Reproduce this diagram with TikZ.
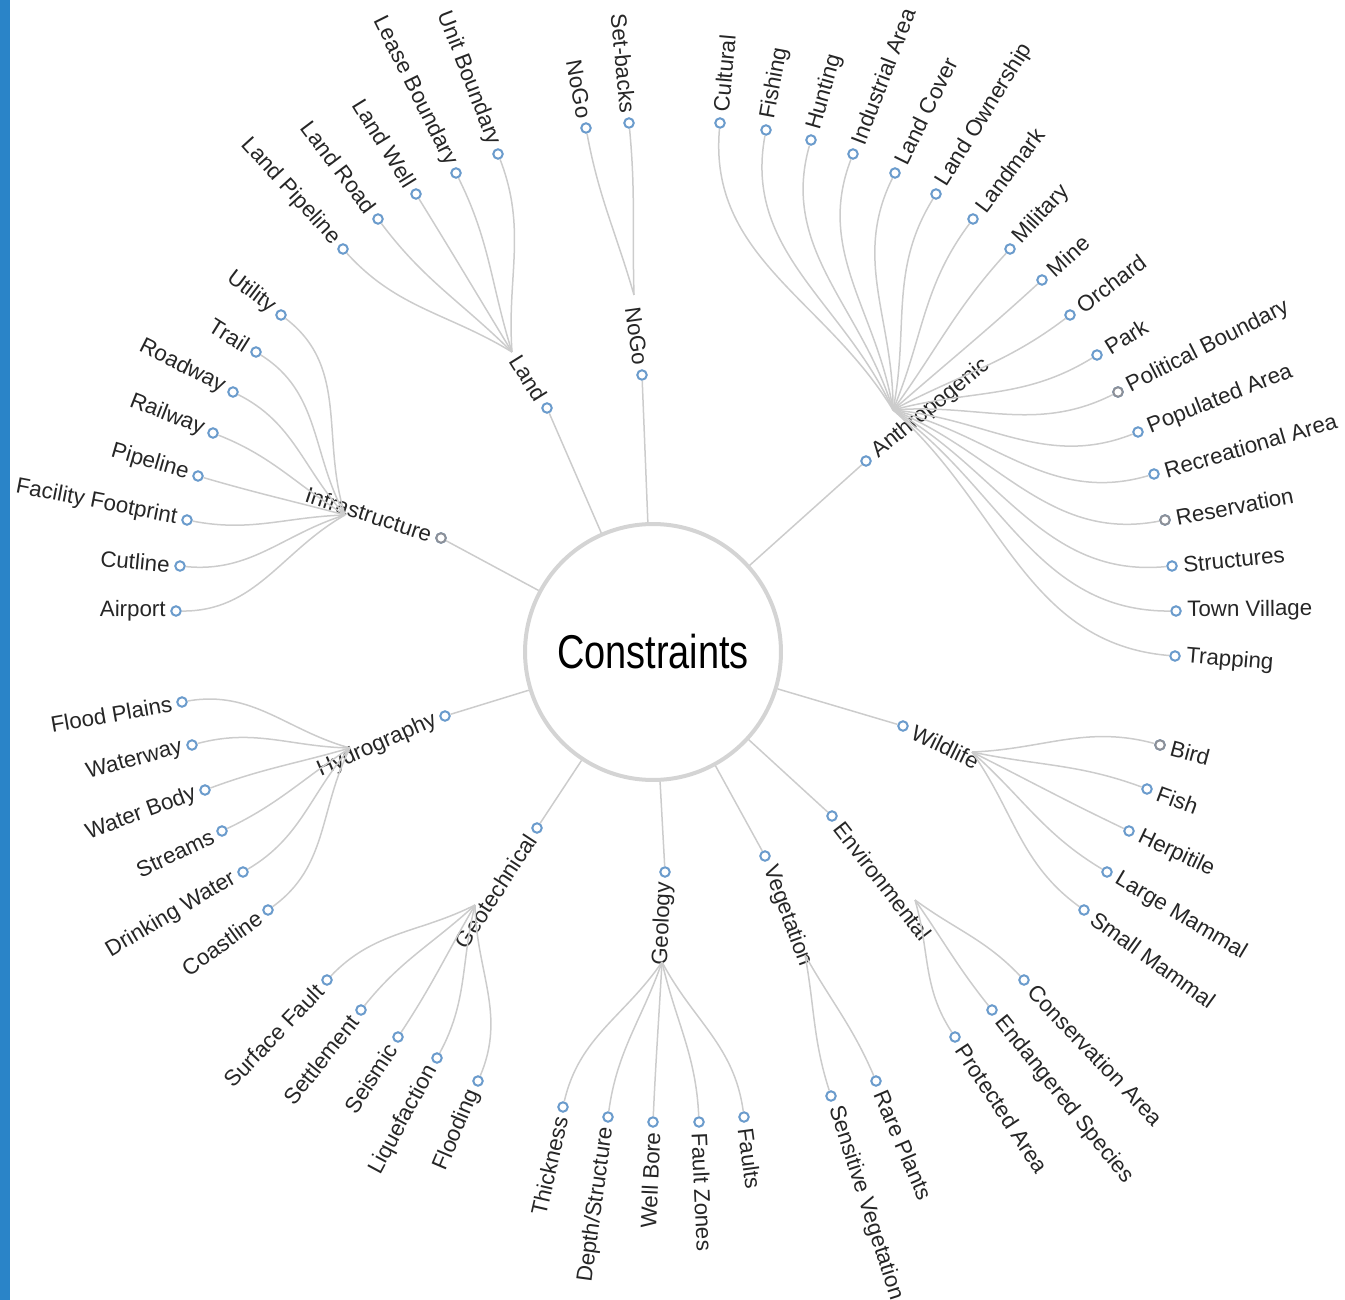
\documentclass[tikz,border=0pt]{standalone}
\usepackage{fontspec}
\setmainfont{Liberation Sans}
\usetikzlibrary{calc}
\definecolor{linkgray}{HTML}{CCCCCC}
\definecolor{dotblue}{HTML}{6A9BCC}
\definecolor{dotgray}{HTML}{8C9098}
\definecolor{barblue}{HTML}{2A84C8}
\definecolor{ringgray}{HTML}{D4D4D4}
\newcommand{\layoutx}{676}
\newcommand{\layouty}{615}
% dot with a label turned along the radius, outward
\newcommand{\leafnode}[4]{%
  \pgfmathsetmacro{\lbang}{atan2(\layouty-#3,#2-\layoutx)}%
  \pgfmathtruncatemacro{\lbflip}{cos(\lbang)<0}%
  \node[dot] (#1) at (#2,#3) {};
  \ifnum\lbflip=1
    \node[lbl, anchor=east, rotate=\lbang+180] at ($(#1)+(\lbang:0.2cm)$) {#4};
  \else
    \node[lbl, anchor=west, rotate=\lbang] at ($(#1)+(\lbang:0.22cm)$) {#4};
  \fi
}
\newcommand{\branch}[2]{%
  \draw[link] let \p1=($(#2)-(#1)$), \p2=($(#2)-(L)$),
    \n1={atan2(\y1,\x1)}, \n2={atan2(\y2,\x2)+180} in
    (#1) to[out=\n1, in=\n2] (#2);
}

\begin{document}
\begin{tikzpicture}[x=0.02cm, y=-0.02cm]
  \tikzset{
    dot/.style={circle, draw=dotblue, fill=white, line width=0.04cm,
      minimum size=0.19cm, inner sep=0pt},
    lbl/.style={font=\fontsize{12.7}{15}\selectfont, text=black!85, inner sep=0pt},
    link/.style={draw=linkgray, line width=0.03cm},
    rootring/.style={circle, draw=ringgray, line width=0.08cm, fill=white,
      minimum size=5.12cm, inner sep=0pt,
      font=\fontsize{27}{30}\selectfont}
  }
  \useasboundingbox (0,0) rectangle (1345,1300);
  \fill[barblue] (0,0) rectangle (10,1300);

  \coordinate (L) at (\layoutx,\layouty);
  \node[rootring] (root) at (653,652) {\scalebox{0.8}[1]{Constraints}};

  % first ring
  \foreach \nm/\ax/\ay/\txt in {land/547/408/Land, nogo/642/375/NoGo,
      anthro/866/461/Anthropogenic, infra/441/538/Infrastructure,
      hydro/445/716/Hydrography, geotech/537/828/Geotechnical,
      geology/665/872/Geology, veg/765/856/Vegetation,
      env/832/816/Environmental, wildlife/903/726/Wildlife}
    {\leafnode{\nm}{\ax}{\ay}{\txt}
     \draw[link] (root) -- (\nm);}

  \coordinate (landhub) at (512,352);
  \coordinate (nogohub) at (634,295);
  \coordinate (anthrohub) at (893,410);
  \coordinate (infrahub) at (345,515);
  \coordinate (hydrohub) at (350,748);
  \coordinate (geotechhub) at (475,905);
  \coordinate (geologyhub) at (662,962);
  \coordinate (veghub) at (805,955);
  \coordinate (envhub) at (915,900);
  \coordinate (wildlifehub) at (972,752);

  % leaves
  \foreach \nm/\ax/\ay/\txt in {landpipe/343/249/Land Pipeline,
      landroad/378/219/Land Road, landwell/416/194/Land Well,
      lease/456/173/Lease Boundary, unitb/498/154/Unit Boundary}
    {\leafnode{\nm}{\ax}{\ay}{\txt} \branch{landhub}{\nm}}

  \foreach \nm/\ax/\ay/\txt in {nogoleaf/586/128/NoGo, setbacks/629/123/Set-backs}
    {\leafnode{\nm}{\ax}{\ay}{\txt} \branch{nogohub}{\nm}}

  \foreach \nm/\ax/\ay/\txt in {cultural/720/123/Cultural, fishing/766/130/Fishing,
      hunting/811/140/Hunting, industrial/853/154/Industrial Area,
      landcover/895/173/Land Cover, landown/936/194/Land Ownership,
      landmark/973/219/Landmark, military/1010/249/Military,
      mine/1042/280/Mine, orchard/1070/315/Orchard, park/1097/355/Park,
      political/1118/392/Political Boundary, populated/1138/432/Populated Area,
      recreational/1154/474/Recreational Area, reservation/1165/520/Reservation,
      structures/1172/566/Structures, town/1176/611/Town Village,
      trapping/1175/656/Trapping}
    {\leafnode{\nm}{\ax}{\ay}{\txt} \branch{anthrohub}{\nm}}

  \foreach \nm/\ax/\ay/\txt in {utility/281/315/Utility, trail/256/352/Trail,
      roadway/233/392/Roadway, railway/213/433/Railway,
      pipeline/198/476/Pipeline, facility/187/520/Facility Footprint,
      cutline/180/566/Cutline, airport/176/611/Airport}
    {\leafnode{\nm}{\ax}{\ay}{\txt} \branch{infrahub}{\nm}}

  \foreach \nm/\ax/\ay/\txt in {flood/182/702/Flood Plains,
      waterway/192/745/Waterway, waterbody/205/790/Water Body,
      streams/222/831/Streams, drinking/243/872/Drinking Water,
      coastline/268/910/Coastline}
    {\leafnode{\nm}{\ax}{\ay}{\txt} \branch{hydrohub}{\nm}}

  \foreach \nm/\ax/\ay/\txt in {surface/327/980/Surface Fault,
      settlement/361/1010/Settlement, seismic/398/1037/Seismic,
      liquefaction/437/1058/Liquefaction, flooding/478/1081/Flooding}
    {\leafnode{\nm}{\ax}{\ay}{\txt} \branch{geotechhub}{\nm}}

  \foreach \nm/\ax/\ay/\txt in {thickness/563/1107/Thickness,
      depth/608/1117/{Depth/Structure}, wellbore/653/1122/Well Bore,
      faultzones/699/1122/Fault Zones, faults/744/1117/Faults}
    {\leafnode{\nm}{\ax}{\ay}{\txt} \branch{geologyhub}{\nm}}

  \foreach \nm/\ax/\ay/\txt in {sensitive/831/1096/Sensitive Vegetation,
      rare/876/1081/Rare Plants}
    {\leafnode{\nm}{\ax}{\ay}{\txt} \branch{veghub}{\nm}}

  \foreach \nm/\ax/\ay/\txt in {protected/955/1037/Protected Area,
      endangered/992/1010/Endangered Species,
      conservation/1024/980/Conservation Area}
    {\leafnode{\nm}{\ax}{\ay}{\txt} \branch{envhub}{\nm}}

  \foreach \nm/\ax/\ay/\txt in {bird/1160/745/Bird, fish/1147/789/Fish,
      herpitile/1129/831/Herpitile, largemam/1107/872/Large Mammal,
      smallmam/1084/910/Small Mammal}
    {\leafnode{\nm}{\ax}{\ay}{\txt} \branch{wildlifehub}{\nm}}

  % a few dots are grey
  \foreach \nm in {political, reservation, bird, infra}
    \node[dot, draw=dotgray] at (\nm) {};
\end{tikzpicture}
\end{document}
